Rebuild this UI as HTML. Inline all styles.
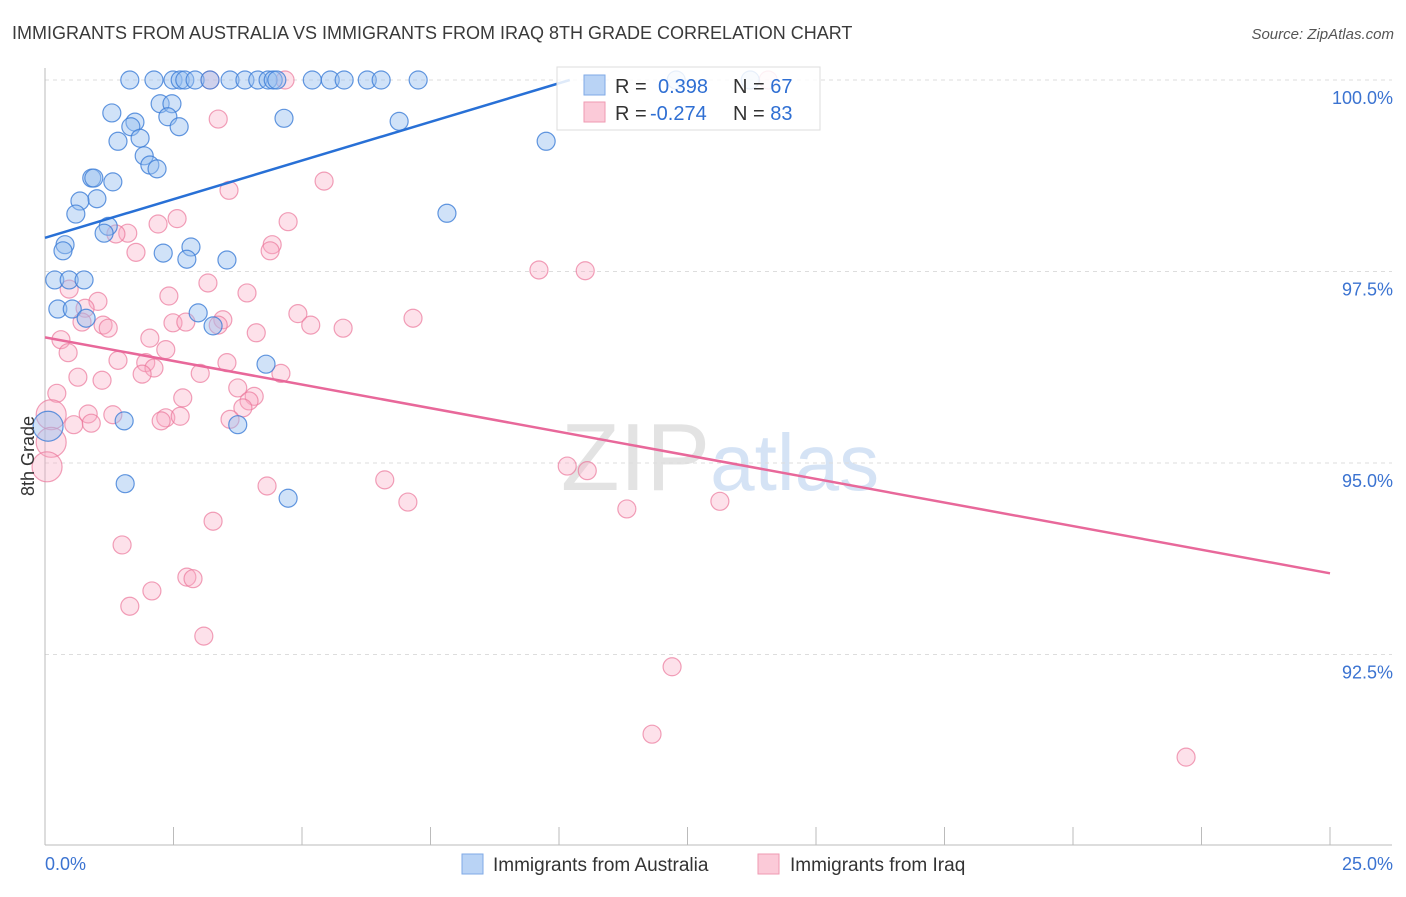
<!DOCTYPE html>
<html><head><meta charset="utf-8"><style>
body{margin:0;background:#fff;font-family:"Liberation Sans",sans-serif;}
svg text{font-family:"Liberation Sans",sans-serif;}
</style></head><body>
<svg width="1406" height="892" viewBox="0 0 1406 892">
<text x="12" y="39" font-size="18" fill="#3a3a3a">IMMIGRANTS FROM AUSTRALIA VS IMMIGRANTS FROM IRAQ 8TH GRADE CORRELATION CHART</text>
<text x="1394" y="39" font-size="15" fill="#555" font-style="italic" text-anchor="end">Source: ZipAtlas.com</text>
<text x="720" y="490" font-size="96" fill="#e3e3e3" text-anchor="middle" font-family="Liberation Serif">ZIP<tspan fill="#d5e3f5" font-family="Liberation Sans" font-size="80">atlas</tspan></text>
<g id="grid"></g>
<g id="axes"></g>
<g id="pts"></g>
<g id="lines"></g>
<text transform="translate(34,456) rotate(-90)" font-size="18" fill="#333" text-anchor="middle">8th Grade</text>
<g>
<rect x="557" y="67" width="263" height="63" fill="rgba(255,255,255,0.85)" stroke="#ddd"/>
<rect x="584" y="75" width="21" height="20" fill="#b9d3f5" stroke="#7fa9e6"/>
<rect x="584" y="102" width="21" height="20" fill="#fbcad8" stroke="#ef9ab2"/>
<text x="615" y="93" font-size="20" fill="#333">R = <tspan x="658" fill="#2f6fd3">0.398</tspan></text>
<text x="733" y="93" font-size="20" fill="#333">N = <tspan fill="#2f6fd3">67</tspan></text>
<text x="615" y="120" font-size="20" fill="#333">R = <tspan x="650" fill="#2f6fd3">-0.274</tspan></text>
<text x="733" y="120" font-size="20" fill="#333">N = <tspan fill="#2f6fd3">83</tspan></text>
</g>
<g>
<rect x="462" y="854" width="21" height="20" fill="#b9d3f5" stroke="#7fa9e6"/>
<text x="493" y="871" font-size="19" fill="#333">Immigrants from Australia</text>
<rect x="758" y="854" width="21" height="20" fill="#fbcad8" stroke="#ef9ab2"/>
<text x="790" y="871" font-size="19" fill="#333">Immigrants from Iraq</text>
</g>
</svg>
<script>
const xTicks=[0,2.5,5,7.5,10,12.5,15,17.5,20,22.5,25];
const yTicks=[100,97.5,95,92.5];
const yTickLabels=["100.0%","97.5%","95.0%","92.5%"];
const xEndLabels=["0.0%","25.0%"];
const ausX=[1.65,2.12,2.49,2.63,2.72,2.92,3.21,3.60,3.89,4.14,4.34,4.44,4.51,5.20,5.55,5.82,6.27,6.54,7.26,12.28,13.72,1.30,2.24,2.47,1.75,1.67,2.39,2.61,1.42,1.85,1.93,2.04,2.18,0.91,0.95,1.32,1.01,0.68,0.60,1.23,1.15,0.39,0.35,2.84,2.30,2.76,3.54,0.19,0.47,0.76,0.25,0.53,0.80,2.98,3.27,4.30,1.54,3.75,1.56,4.73,4.65,6.89,9.75,7.82,0.06];
const ausY=[100,100,100,100,100,100,100,100,100,100,100,100,100,100,100,100,100,100,100,100,100,99.57,99.69,99.69,99.45,99.39,99.52,99.39,99.20,99.24,99.01,98.89,98.84,98.72,98.72,98.67,98.45,98.42,98.25,98.09,98.00,97.85,97.77,97.82,97.74,97.66,97.65,97.39,97.39,97.39,97.01,97.01,96.89,96.96,96.79,96.29,95.55,95.50,94.73,94.54,99.50,99.46,99.20,98.26,95.48];
const iraqX=[3.21,4.67,14.07,3.37,3.58,5.43,4.73,2.57,2.20,1.61,1.38,1.77,4.42,4.38,9.61,10.51,3.93,3.17,2.41,1.03,0.47,0.78,0.72,1.13,1.23,2.49,2.74,3.46,3.37,4.92,5.17,5.80,7.16,4.11,0.31,0.45,2.04,2.35,1.42,1.96,2.12,1.89,3.02,3.54,4.59,0.64,1.11,0.23,3.75,4.07,3.97,2.68,3.85,0.84,1.32,2.35,2.63,2.26,3.60,0.90,0.56,0.12,0.12,0.04,6.61,4.32,7.06,10.16,10.55,11.32,13.13,3.27,1.50,2.76,2.88,2.08,1.65,3.09,12.20,11.81,22.20];
const iraqY=[100,100,100,99.49,98.56,98.68,98.15,98.19,98.12,98.00,97.99,97.75,97.85,97.77,97.52,97.51,97.22,97.35,97.18,97.11,97.27,97.02,96.84,96.80,96.76,96.83,96.84,96.87,96.80,96.95,96.80,96.76,96.89,96.70,96.61,96.44,96.63,96.48,96.34,96.31,96.24,96.16,96.17,96.31,96.17,96.12,96.08,95.91,95.98,95.87,95.81,95.85,95.72,95.64,95.63,95.59,95.61,95.55,95.57,95.52,95.50,95.63,95.27,94.95,94.78,94.70,94.49,94.96,94.90,94.40,94.50,94.24,93.93,93.51,93.49,93.33,93.13,92.74,92.34,91.46,91.16];
const ausTrend=[[0,97.94],[10.21,100]];
const iraqTrend=[[0,96.64],[25,93.56]];
const NS="http://www.w3.org/2000/svg";
const X=v=>45+v/25*1285;
const Y=v=>80+(100-v)*76.6;
function mk(t,a,p){const e=document.createElementNS(NS,t);for(const k in a)e.setAttribute(k,a[k]);document.getElementById(p).appendChild(e);return e;}
yTicks.forEach((t,i)=>{
 const g=mk('line',{x1:45,x2:1392,y1:Y(t),y2:Y(t),stroke:'#ddd','stroke-dasharray':'4,4'},'grid');
 
 
 const l=mk('text',{x:1393,y:Y(t)+24,'font-size':18,fill:'#3b73d1','text-anchor':'end'},'grid');
 
 
 l.textContent=yTickLabels[i];
});
const ax=mk('line',{x1:45,x2:1392,y1:845,y2:845,stroke:'#bbb'},'axes');


const ay=mk('line',{x1:45,x2:45,y1:68,y2:845,stroke:'#bbb'},'axes');


xTicks.forEach(t=>{
 const k=mk('line',{x1:X(t),x2:X(t),y1:827,y2:845,stroke:'#bbb'},'axes');
 
 
});
[[0,'start'],[25,'end']].forEach((p,i)=>{
 const l=mk('text',{x:i?1393:45,y:870,'font-size':18,fill:'#3b73d1','text-anchor':p[1]},'axes');
 
 
 l.textContent=xEndLabels[i];
});
function pts(xs,ys,fill,stroke,name){
 xs.forEach((x,i)=>{
  const big=(x<0.2&&(ys[i]>95.2&&ys[i]<95.7||ys[i]<95));
  const c=mk('circle',{cx:X(x),cy:Y(ys[i]),r:big?15:9,fill:fill,stroke:stroke,'stroke-width':1.2},'pts');
  
  
 });
}
pts(iraqX,iraqY,'rgba(248,170,195,0.35)','rgba(235,120,155,0.7)','iraq-point');
pts(ausX,ausY,'rgba(150,190,240,0.45)','rgba(60,125,215,0.8)','australia-point');
const l1=mk('line',{x1:X(ausTrend[0][0]),y1:Y(ausTrend[0][1]),x2:X(ausTrend[1][0]),y2:Y(ausTrend[1][1]),stroke:'#2870d6','stroke-width':2.5},'lines');


const l2=mk('line',{x1:X(iraqTrend[0][0]),y1:Y(iraqTrend[0][1]),x2:X(iraqTrend[1][0]),y2:Y(iraqTrend[1][1]),stroke:'#e8689a','stroke-width':2.5},'lines');


</script>
</body></html>
